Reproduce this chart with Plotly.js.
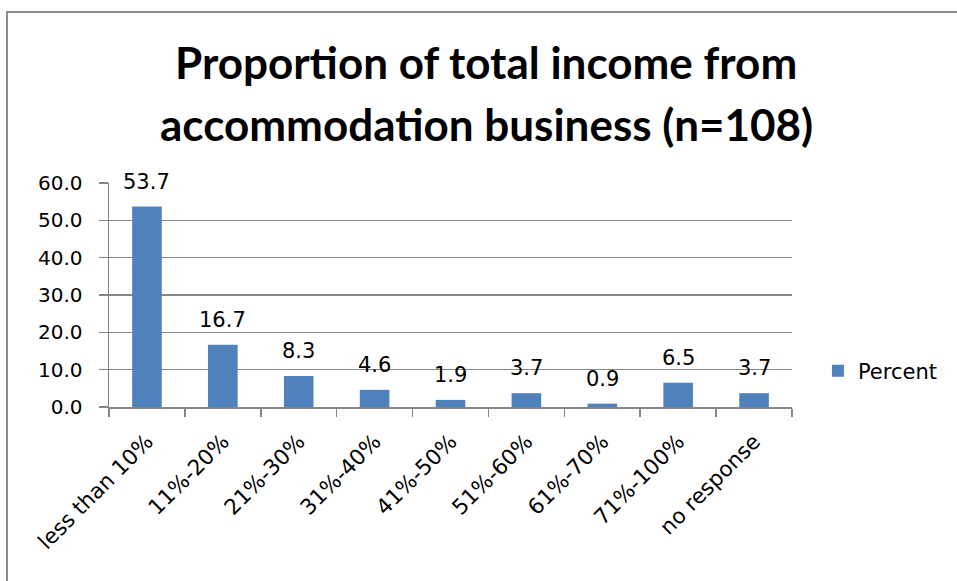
<!DOCTYPE html>
<html><head><meta charset="utf-8">
<script src="https://cdn.plot.ly/plotly-3.0.1.min.js"></script>
<style>
html,body{margin:0;padding:0;background:#fff;}
#wrap{position:relative;width:957px;height:581px;overflow:hidden;}
#chart{position:absolute;left:0;top:0;width:957px;height:581px;}
#border{position:absolute;left:6px;top:11px;width:1000px;height:700px;border:2px solid #8c8c8c;pointer-events:none;}
</style></head>
<body><div id="wrap"><div id="border"></div><div id="chart"></div></div>
<script>
const categories = ["less than 10%","11%-20%","21%-30%","31%-40%","41%-50%","51%-60%","61%-70%","71%-100%","no response"];
const percentValues = [53.7,16.7,8.3,4.6,1.9,3.7,0.9,6.5,3.7];
const yTickValues = [0,10,20,30,40,50,60];
const yTickLabels = ["0.0","10.0","20.0","30.0","40.0","50.0","60.0"];
const titleLines = ["Proportion of total income from","accommodation business (n=108)"];
const seriesName = "Percent";

const font = "'DejaVu Sans', sans-serif";
const titleFont = "Lato, 'Open Sans', sans-serif";

const trace = {
  type: "bar",
  name: seriesName,
  x: categories,
  y: percentValues,
  marker: {color: "#4F81BD", line: {width: 0}},
  hoverinfo: "x+y"
};

const labelAnnotations = categories.map((c, i) => ({
  x: c, y: percentValues[i], xref: "x", yref: "y",
  text: percentValues[i].toFixed(1),
  showarrow: false, yanchor: "middle", xanchor: "center", yshift: 25,
  font: {family: font, size: 21, color: "#000"}
}));

const titleAnnotations = titleLines.map((t, i) => ({
  x: 0.552, xref: "paper", y: [1.54, 1.262][i], yref: "paper",
  text: "<b>" + t + "</b>", showarrow: false, xanchor: "center", yanchor: "middle",
  font: {family: titleFont, size: 44, color: "#000"}
}));

const layout = {
  width: 957, height: 581,
  margin: {l: 109, r: 165, t: 183, b: 174},
  paper_bgcolor: "rgba(0,0,0,0)",
  plot_bgcolor: "rgba(0,0,0,0)",
  bargap: 0.61,
  showlegend: true,
  legend: {x: 1.038, y: 0.16, xanchor: "left", yanchor: "middle", itemwidth: 30,
           font: {family: font, size: 21, color: "#000"}},
  annotations: titleAnnotations.concat(labelAnnotations),
  xaxis: {
    type: "category",
    tickangle: -45,
    tickfont: {family: font, size: 21.5, color: "#000"},
    ticks: "outside", tickson: "boundaries", ticklen: 8, tickcolor: "#868686", tickwidth: 1.5,
    ticklabelstandoff: 12,
    showline: true, linecolor: "#868686", linewidth: 1.5,
    showgrid: false
  },
  yaxis: {
    range: [0, 60],
    tickvals: yTickValues, ticktext: yTickLabels,
    tickfont: {family: font, size: 20, color: "#000"},
    ticks: "outside", ticklen: 9, tickcolor: "#868686", tickwidth: 1.5,
    ticklabelstandoff: 12,
    showline: true, linecolor: "#868686", linewidth: 1.5,
    showgrid: true, gridcolor: "#868686", gridwidth: 1.5,
    zeroline: false
  }
};
Plotly.newPlot("chart", [trace], layout, {displayModeBar: false, staticPlot: true});
</script></body></html>
